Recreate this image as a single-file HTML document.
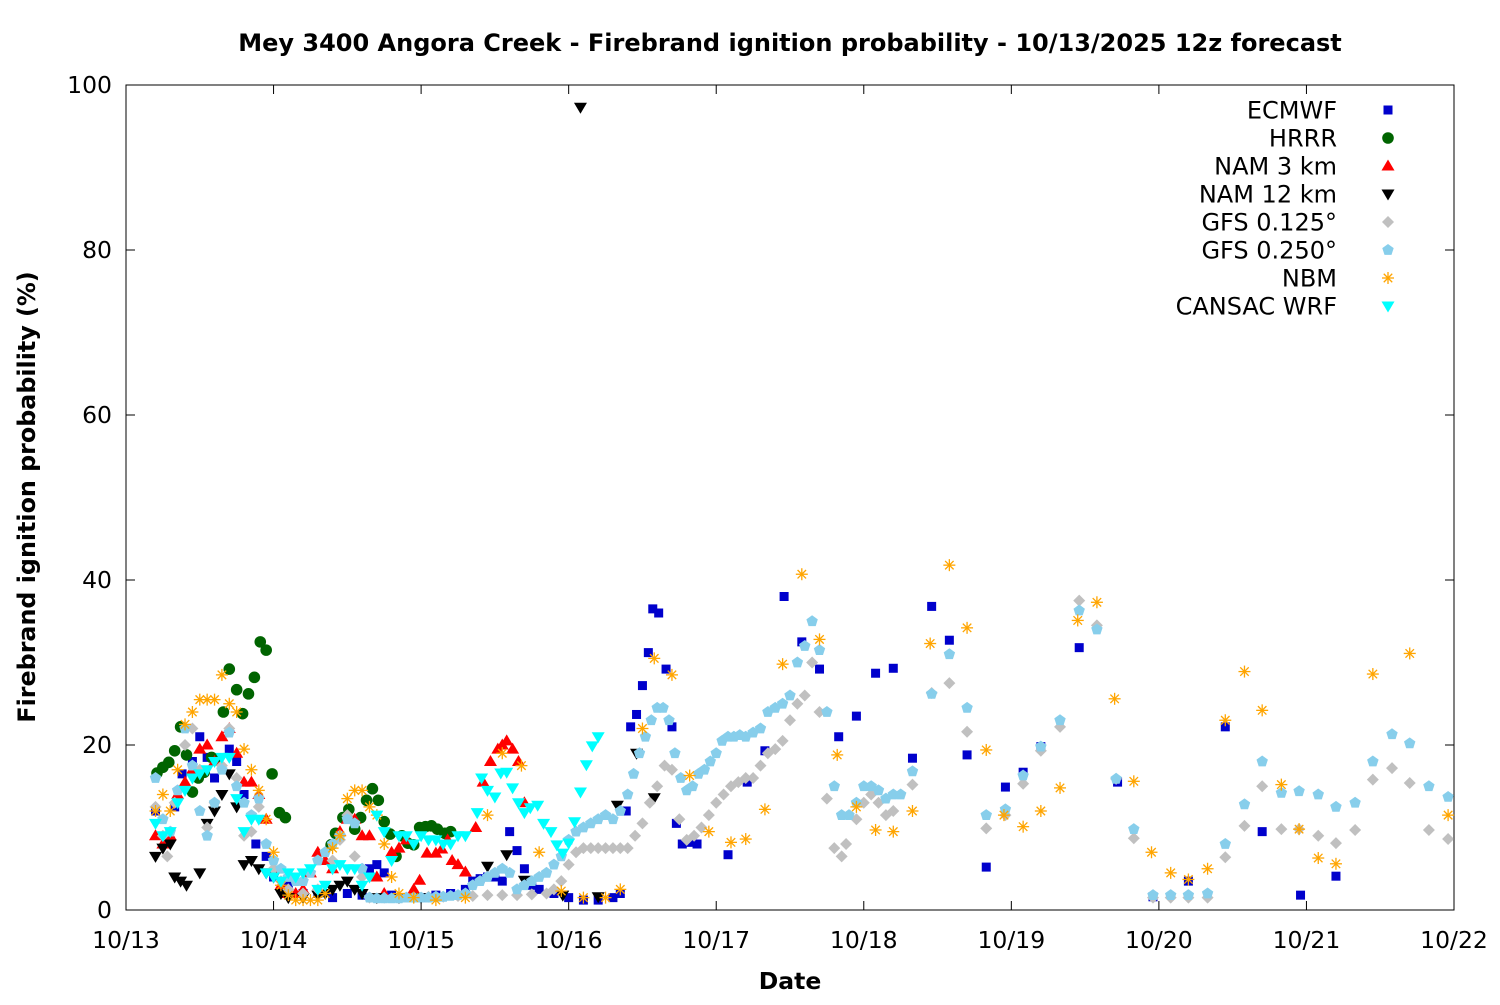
<!DOCTYPE html>
<html><head><meta charset="utf-8"><style>
body{margin:0;background:#fff}
svg text{font-family:"DejaVu Sans","Liberation Sans",sans-serif;fill:#000}
</style></head><body>
<svg id="chart" width="1500" height="1000" xmlns="http://www.w3.org/2000/svg">
<rect width="1500" height="1000" fill="#fff"/>
<text x="790" y="51" font-size="24" font-weight="bold" text-anchor="middle">Mey 3400 Angora Creek - Firebrand ignition probability - 10/13/2025 12z forecast</text>
<text x="790" y="989" font-size="23.5" font-weight="bold" text-anchor="middle">Date</text>
<text transform="translate(35,497) rotate(-90)" font-size="23.8" font-weight="bold" text-anchor="middle">Firebrand ignition probability (%)</text>
<g id="axes"></g>
<g id="marks"></g>
<g id="legend"></g>
</svg>
<script>
const xTickLabels=["10/13","10/14","10/15","10/16","10/17","10/18","10/19","10/20","10/21","10/22"];
const yTicks=[0,20,40,60,80,100];
const ecmwf=[[0.2,12],[0.33,12.5],[0.38,16.5],[0.45,18],[0.5,21],[0.55,18.5],[0.6,16],[0.7,19.5],[0.75,18],[0.8,14],[0.88,8],[0.95,6.5],[1.0,4],[1.1,3],[1.2,2],[1.3,2],[1.4,1.5],[1.5,2],[1.6,1.8],[1.65,5],[1.7,5.5],[1.75,4.5],[1.8,1.8],[1.9,1.5],[2.0,1.5],[2.1,1.8],[2.2,2],[2.3,2.5],[2.35,3.5],[2.4,3.8],[2.45,4],[2.5,4],[2.55,3.5],[2.6,9.5],[2.65,7.2],[2.7,5],[2.75,3],[2.8,2.5],[2.9,2],[3.0,1.5],[3.1,1.2],[3.2,1.2],[3.3,1.5],[3.35,2],[3.39,12],[3.42,22.2],[3.46,23.7],[3.5,27.2],[3.54,31.2],[3.57,36.5],[3.61,36],[3.66,29.2],[3.7,22.2],[3.73,10.5],[3.77,8],[3.82,8.2],[3.87,8],[4.08,6.7],[4.21,15.5],[4.33,19.3],[4.46,38],[4.58,32.5],[4.7,29.2],[4.83,21],[4.95,23.5],[5.08,28.7],[5.2,29.3],[5.33,18.4],[5.46,36.8],[5.58,32.7],[5.7,18.8],[5.83,5.2],[5.96,14.9],[6.08,16.7],[6.2,19.8],[6.46,31.8],[6.72,15.5],[6.96,1.6],[7.2,3.5],[7.45,22.2],[7.7,9.5],[7.96,1.8],[8.2,4.1]];
const hrrr=[[0.21,16.6],[0.25,17.3],[0.29,17.9],[0.33,19.3],[0.37,22.2],[0.41,18.8],[0.45,14.3],[0.49,16],[0.53,16.7],[0.58,18.5],[0.62,18.2],[0.66,24],[0.7,29.2],[0.75,26.7],[0.79,23.8],[0.83,26.2],[0.87,28.2],[0.91,32.5],[0.95,31.5],[0.99,16.5],[1.04,11.8],[1.08,11.2],[1.39,7.9],[1.42,9.3],[1.47,11.2],[1.51,12.2],[1.55,9.8],[1.59,11.2],[1.63,13.3],[1.67,14.7],[1.71,13.3],[1.75,10.7],[1.79,9.2],[1.83,6.5],[1.87,9],[1.91,8.1],[1.95,7.9],[1.99,10],[2.03,10.1],[2.07,10.2],[2.11,9.8],[2.16,9.3],[2.2,9.5]];
const nam3=[[0.2,9],[0.25,8],[0.3,9],[0.35,14],[0.4,15.5],[0.45,17],[0.5,19.5],[0.55,20],[0.6,18],[0.65,21],[0.7,22],[0.75,19],[0.8,15.5],[0.85,15.5],[0.9,14],[0.95,11],[1.0,5],[1.05,3],[1.1,2],[1.15,2],[1.2,2.5],[1.25,4.5],[1.3,7],[1.35,6],[1.4,5],[1.45,9.5],[1.5,11],[1.55,11],[1.6,9],[1.65,9],[1.7,4],[1.75,2],[1.8,7],[1.85,7.5],[1.9,8.5],[1.95,2.5],[1.99,3.6],[2.04,6.9],[2.1,6.9],[2.14,7.4],[2.18,8.5],[2.21,6],[2.25,5.5],[2.3,4.6],[2.37,10],[2.42,15.5],[2.47,18],[2.52,19.5],[2.55,20],[2.58,20.5],[2.62,19.5],[2.66,18],[2.7,13]];
const nam12=[[0.2,6.5],[0.25,7.5],[0.3,8],[0.33,4],[0.37,3.5],[0.41,3],[0.5,4.5],[0.55,10.5],[0.6,12],[0.65,14],[0.7,16.5],[0.75,12.5],[0.8,5.5],[0.85,6],[0.9,5],[0.95,4.5],[1.0,4],[1.05,2],[1.1,1.5],[1.2,1.5],[1.3,1.8],[1.35,2],[1.4,2.5],[1.45,3],[1.5,3.5],[1.55,2.5],[1.6,2],[1.7,1.5],[1.85,1.5],[2.0,1.5],[2.45,5.3],[2.58,6.7],[2.7,3.6],[2.96,1.8],[3.08,97.3],[3.2,1.6],[3.33,12.7],[3.46,19],[3.58,13.6]];
const gfs125=[[0.2,12.5],[0.25,9],[0.28,6.5],[0.33,13],[0.4,20],[0.45,22],[0.5,17],[0.55,10],[0.6,13],[0.65,17.5],[0.7,22],[0.75,16],[0.8,9],[0.85,9.5],[0.9,12.5],[1.0,5],[1.05,3.5],[1.1,2.5],[1.2,2],[1.3,2.5],[1.4,6],[1.45,8.5],[1.5,11.5],[1.55,6.5],[1.6,4],[1.65,1.5],[1.75,1.5],[1.85,1.5],[1.95,1.5],[2.05,1.6],[2.15,1.6],[2.25,1.7],[2.35,1.7],[2.45,1.8],[2.55,1.8],[2.65,1.8],[2.75,1.9],[2.85,2],[2.9,2.5],[2.95,3.5],[3.0,5.5],[3.05,7],[3.1,7.5],[3.15,7.5],[3.2,7.5],[3.25,7.5],[3.3,7.5],[3.35,7.5],[3.4,7.5],[3.45,9],[3.5,10.5],[3.55,13],[3.6,15],[3.65,17.5],[3.7,17],[3.75,11],[3.8,8.5],[3.85,9],[3.9,10],[3.95,11.5],[4.0,13],[4.05,14],[4.1,15],[4.15,15.5],[4.2,16],[4.25,16],[4.3,17.5],[4.35,19],[4.4,19.5],[4.45,20.5],[4.5,23],[4.55,25],[4.6,26],[4.65,30],[4.7,24],[4.75,13.5],[4.8,7.5],[4.85,6.5],[4.88,8],[4.95,11],[5.0,13],[5.05,14],[5.1,13],[5.15,11.5],[5.2,12],[5.33,15.2],[5.46,26.3],[5.58,27.5],[5.7,21.6],[5.83,9.9],[5.96,11.5],[6.08,15.3],[6.2,19.3],[6.33,22.2],[6.46,37.5],[6.58,34.5],[6.71,15.9],[6.83,8.7],[6.96,1.5],[7.08,1.5],[7.2,1.5],[7.33,1.5],[7.45,6.4],[7.58,10.2],[7.7,15],[7.83,9.8],[7.95,9.8],[8.08,9],[8.2,8.1],[8.33,9.7],[8.45,15.8],[8.58,17.2],[8.7,15.4],[8.83,9.7],[8.96,8.6]];
const gfs250=[[0.2,16],[0.25,11],[0.3,9.5],[0.35,14.5],[0.4,22],[0.45,17.5],[0.5,12],[0.55,9],[0.6,13],[0.65,17],[0.7,21.5],[0.75,15],[0.8,13],[0.85,11.5],[0.9,13.5],[0.95,8],[1.0,6],[1.05,5],[1.1,4],[1.15,3.5],[1.2,3.5],[1.25,4.5],[1.3,6],[1.35,7],[1.4,8],[1.45,9],[1.5,11],[1.55,10.5],[1.6,5],[1.65,1.5],[1.7,1.4],[1.75,1.4],[1.8,1.4],[1.85,1.4],[1.9,1.5],[1.95,1.5],[2.0,1.5],[2.05,1.5],[2.1,1.6],[2.15,1.6],[2.2,1.7],[2.25,1.8],[2.3,2],[2.35,3],[2.4,3.5],[2.45,4],[2.5,4.5],[2.55,5],[2.6,4.5],[2.65,2.5],[2.7,3],[2.75,3.5],[2.8,4],[2.85,4.5],[2.9,5.5],[2.95,6.5],[3.0,8.5],[3.05,9.5],[3.1,10],[3.15,10.5],[3.2,11],[3.25,11.5],[3.3,11],[3.35,12],[3.4,14],[3.44,16.5],[3.48,19],[3.52,21],[3.56,23],[3.6,24.5],[3.64,24.5],[3.68,23],[3.72,19],[3.76,16],[3.8,14.5],[3.84,15],[3.88,16.5],[3.92,17],[3.96,18],[4.0,19],[4.04,20.5],[4.08,21],[4.12,21],[4.16,21.2],[4.2,21],[4.25,21.5],[4.3,22],[4.35,24],[4.4,24.5],[4.45,25],[4.5,26],[4.55,30],[4.6,32],[4.65,35],[4.7,31.5],[4.75,24],[4.8,15],[4.85,11.5],[4.9,11.5],[4.95,13],[5.0,15],[5.05,15],[5.1,14.5],[5.15,13.5],[5.2,14],[5.25,14],[5.33,16.8],[5.46,26.2],[5.58,31],[5.7,24.5],[5.83,11.5],[5.96,12.2],[6.08,16.3],[6.2,19.8],[6.33,23],[6.46,36.3],[6.58,34],[6.71,15.9],[6.83,9.8],[6.96,1.8],[7.08,1.8],[7.2,1.8],[7.33,2],[7.45,8],[7.58,12.8],[7.7,18],[7.83,14.2],[7.95,14.4],[8.08,14],[8.2,12.5],[8.33,13],[8.45,18],[8.58,21.3],[8.7,20.2],[8.83,15],[8.96,13.7]];
const nbm=[[0.2,12],[0.25,14],[0.3,12],[0.35,17],[0.4,22.5],[0.45,24],[0.5,25.5],[0.55,25.5],[0.6,25.5],[0.65,28.5],[0.7,25],[0.75,24],[0.8,19.5],[0.85,17],[0.9,14.5],[0.95,11],[1.0,7],[1.05,3],[1.1,1.8],[1.15,1.2],[1.2,1.2],[1.25,1.2],[1.3,1.2],[1.35,2],[1.4,7.5],[1.45,9],[1.5,13.5],[1.55,14.5],[1.6,14.5],[1.65,12.5],[1.7,11.5],[1.75,8],[1.8,4],[1.85,2],[1.95,1.5],[2.1,1.2],[2.3,1.5],[2.45,11.5],[2.55,19],[2.68,17.5],[2.8,7],[2.95,2.3],[3.1,1.5],[3.25,1.5],[3.35,2.5],[3.5,22],[3.58,30.5],[3.7,28.5],[3.82,16.3],[3.95,9.5],[4.1,8.2],[4.2,8.6],[4.33,12.2],[4.45,29.8],[4.58,40.7],[4.7,32.8],[4.82,18.8],[4.95,12.5],[5.08,9.7],[5.2,9.5],[5.33,12],[5.45,32.3],[5.58,41.8],[5.7,34.2],[5.83,19.4],[5.95,11.5],[6.08,10.1],[6.2,12],[6.33,14.8],[6.45,35.1],[6.58,37.3],[6.7,25.6],[6.83,15.6],[6.95,7],[7.08,4.5],[7.2,3.7],[7.33,5],[7.45,23],[7.58,28.9],[7.7,24.2],[7.83,15.2],[7.95,9.8],[8.08,6.3],[8.2,5.6],[8.45,28.6],[8.7,31.1],[8.96,11.5]];
const cansac=[[0.2,10.5],[0.25,9],[0.3,9.5],[0.35,13],[0.4,14.5],[0.45,16],[0.5,16.5],[0.55,17],[0.6,18],[0.65,18.5],[0.7,18.5],[0.75,13.5],[0.8,9.5],[0.85,11],[0.9,11],[0.95,4.5],[1.0,4],[1.05,3.5],[1.1,4.5],[1.15,4],[1.2,4.5],[1.25,5],[1.3,2.5],[1.35,3],[1.4,5],[1.45,5.5],[1.5,5],[1.55,5],[1.6,3],[1.65,4],[1.7,11.5],[1.75,9.5],[1.8,6],[1.85,9],[1.9,9],[1.95,8],[2.0,9],[2.05,8.5],[2.1,8.5],[2.15,8],[2.2,8],[2.25,9],[2.3,9],[2.38,11.8],[2.41,16],[2.45,14.5],[2.5,13.7],[2.54,16.6],[2.58,16.7],[2.62,14.8],[2.66,13],[2.7,11.8],[2.74,12.4],[2.79,12.7],[2.83,10.5],[2.88,9.5],[2.92,7.9],[2.96,6.9],[3.0,8.1],[3.04,10.7],[3.08,14.3],[3.12,17.6],[3.16,19.9],[3.2,21]];
const seriesNames=["ECMWF","HRRR","NAM 3 km","NAM 12 km","GFS 0.125°","GFS 0.250°","NBM","CANSAC WRF"];
const seriesData=[ecmwf,hrrr,nam3,nam12,gfs125,gfs250,nbm,cansac];
const seriesColors=["#0000cc","#006400","#ff0000","#000000","#c0c0c0","#87ceeb","#ffa500","#00ffff"];
const seriesShapes=["square","circle","up","down","diamond","hex","star","down"];
const seriesSlugs=["ecmwf","hrrr","nam-3km","nam-12km","gfs-0125","gfs-0250","nbm","cansac-wrf"];

const L=126,R=1454,T=85,B=910;
const xs=t=>L+t*(R-L)/9;
const ys=v=>B-v*(B-T)/100;
const NS="http://www.w3.org/2000/svg";
function mk(tag,attrs,parent){const e=document.createElementNS(NS,tag);for(const k in attrs)e.setAttribute(k,attrs[k]);parent.appendChild(e);return e;}
const axes=document.getElementById('axes');
const frame=mk('rect',{x:L,y:T,width:R-L,height:B-T,fill:'none',stroke:'#000','stroke-width':1},axes);


yTicks.forEach(v=>{
  const y=ys(v);
  mk('line',{x1:L,x2:L+9,y1:y,y2:y,stroke:'#000'},axes);
  mk('line',{x1:R,x2:R-9,y1:y,y2:y,stroke:'#000'},axes);
  const t=mk('text',{x:L-14,y:y+8,'font-size':23.5,'text-anchor':'end'},axes);
  t.textContent=v;
  
  
});
xTickLabels.forEach((lab,i)=>{
  const x=xs(i);
  mk('line',{x1:x,x2:x,y1:B,y2:B-9,stroke:'#000'},axes);
  mk('line',{x1:x,x2:x,y1:T,y2:T+9,stroke:'#000'},axes);
  const t=mk('text',{x:x,y:B+38,'font-size':23.5,'text-anchor':'middle'},axes);
  t.textContent=lab;
  
  
});
function marker(shape,x,y,c,parent){
  const s=5.5;
  if(shape==='square')return mk('rect',{x:x-4.5,y:y-4.5,width:9,height:9,fill:c},parent);
  if(shape==='circle')return mk('circle',{cx:x,cy:y,r:5.8,fill:c},parent);
  if(shape==='up')return mk('polygon',{points:`${x},${y-s-1} ${x-s-1},${y+s-1} ${x+s+1},${y+s-1}`,fill:c},parent);
  if(shape==='down')return mk('polygon',{points:`${x},${y+s+1} ${x-s-1},${y-s+1} ${x+s+1},${y-s+1}`,fill:c},parent);
  if(shape==='diamond')return mk('polygon',{points:`${x},${y-6} ${x+6},${y} ${x},${y+6} ${x-6},${y}`,fill:c},parent);
  if(shape==='hex'){let p=[];for(let k=0;k<5;k++){const a=-Math.PI/2+k*2*Math.PI/5;p.push((x+6*Math.cos(a)).toFixed(1)+','+(y+6*Math.sin(a)).toFixed(1));}return mk('polygon',{points:p.join(' '),fill:c},parent);}
  if(shape==='star'){const g=mk('g',{stroke:c,'stroke-width':1.3},parent);for(let k=0;k<4;k++){const a=k*Math.PI/4;mk('line',{x1:x-6*Math.cos(a),y1:y-6*Math.sin(a),x2:x+6*Math.cos(a),y2:y+6*Math.sin(a)},g);}return g;}
}
const marks=document.getElementById('marks');
seriesData.forEach((data,si)=>{
  const g=mk('g',{},marks);
  
  
  data.forEach(d=>{
    const m=marker(seriesShapes[si],xs(d[0]),ys(d[1]),seriesColors[si],g);
    
    
  });
});
const legend=document.getElementById('legend');


seriesNames.forEach((n,i)=>{
  const y=110+i*28;
  const g=mk('g',{},legend);
  
  
  const t=mk('text',{x:1337,y:y+8.5,'font-size':24,'text-anchor':'end'},g);
  t.textContent=n;
  marker(seriesShapes[i],1388,y,seriesColors[i],g);
});
</script>
</body></html>
